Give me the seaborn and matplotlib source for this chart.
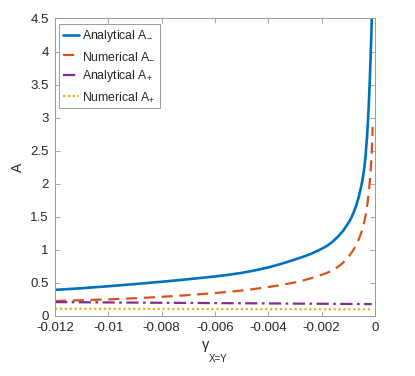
import numpy as np
import pandas as pd
import matplotlib
matplotlib.use("Agg")
import matplotlib.pyplot as plt
import seaborn as sns

# ---- data ----
gamma_am = [-0.012, -0.011, -0.010, -0.009, -0.008, -0.007, -0.006, -0.0055, -0.005,
            -0.0045, -0.004, -0.0035, -0.003, -0.0027, -0.0024, -0.0021, -0.0018,
            -0.0016, -0.0014, -0.0012, -0.0010, -0.0009, -0.0008, -0.0007, -0.0006,
            -0.0005, -0.00045, -0.0004, -0.00035, -0.0003, -0.00026, -0.00022,
            -0.00019, -0.00016, -0.00014, -0.00012, -0.00010]
A_am = [0.395, 0.42, 0.45, 0.483, 0.518, 0.556, 0.598, 0.623, 0.652,
        0.69, 0.735, 0.79, 0.855, 0.895, 0.94, 0.995, 1.06,
        1.12, 1.195, 1.285, 1.405, 1.475, 1.565, 1.675, 1.81,
        1.99, 2.10, 2.24, 2.43, 2.70, 2.96, 3.30,
        3.60, 3.95, 4.20, 4.50, 4.90]

gamma_nm = [-0.012, -0.011, -0.010, -0.009, -0.008, -0.007, -0.006, -0.005, -0.0045,
            -0.004, -0.0035, -0.003, -0.0027, -0.0024, -0.0021, -0.0018, -0.0016,
            -0.0014, -0.0012, -0.0010, -0.0009, -0.0008, -0.0007, -0.0006, -0.0005,
            -0.00045, -0.0004, -0.00035, -0.0003, -0.00026, -0.00022, -0.00019,
            -0.00016, -0.00014, -0.00012, -0.00010, -0.00009]
A_nm = [0.227, 0.238, 0.251, 0.268, 0.29, 0.316, 0.347, 0.385, 0.41,
        0.438, 0.47, 0.508, 0.537, 0.57, 0.608, 0.652, 0.69,
        0.74, 0.805, 0.89, 0.945, 1.005, 1.075, 1.165, 1.275,
        1.345, 1.425, 1.525, 1.645, 1.765, 1.915, 2.055,
        2.20, 2.33, 2.48, 2.66, 2.86]

gamma_ap = [-0.012, -0.010, -0.008, -0.006, -0.004, -0.002, -0.00012]
A_ap = [0.21, 0.205, 0.20, 0.195, 0.19, 0.185, 0.18]

gamma_np = [-0.012, -0.008, -0.004, -0.00012]
A_np = [0.11, 0.107, 0.103, 0.10]

labels = ["Analytical A$_{\\mathsf{-}}$", "Numerical A$_{\\mathsf{-}}$",
          "Analytical A$_{+}$", "Numerical A$_{+}$"]
xticks = [-0.012, -0.01, -0.008, -0.006, -0.004, -0.002, 0]
xtick_labels = ["-0.012", "-0.01", "-0.008", "-0.006", "-0.004", "-0.002", "0"]
yticks = [0, 0.5, 1, 1.5, 2, 2.5, 3, 3.5, 4, 4.5]
ytick_labels = ["0", "0.5", "1", "1.5", "2", "2.5", "3", "3.5", "4", "4.5"]

sns.set_theme(style="white")
plt.rcParams["font.family"] = ["Liberation Sans", "DejaVu Sans"]
plt.rcParams["mathtext.fontset"] = "custom"
plt.rcParams["mathtext.rm"] = "Liberation Sans"
plt.rcParams["mathtext.it"] = "Liberation Sans:italic"
plt.rcParams["mathtext.sf"] = "Liberation Sans"
plt.rcParams["axes.unicode_minus"] = False

fig = plt.figure(figsize=(4.15, 3.76), dpi=100)
ax = fig.add_axes([0.1325, 0.1596, 0.771, 0.7912])

colors = ["#0072BD", "#D95319", "#7E2F8E", "#EDB120"]
styles = ["-", (0, (5, 3)), (0, (5.5, 2, 1.2, 2)), (0, (1, 1.2))]
widths = [1.9, 1.6, 1.6, 1.6]
series = [(gamma_am, A_am), (gamma_nm, A_nm), (gamma_ap, A_ap), (gamma_np, A_np)]

for (gx, ay), c, ls, lw, lab in zip(series, colors, styles, widths, labels):
    df = pd.DataFrame({"gamma": gx, "A": ay})
    sns.lineplot(data=df, x="gamma", y="A", ax=ax, color=c, linestyle=ls,
                 linewidth=lw, label=lab, sort=True, estimator=None)

ax.set_xlim(-0.012, 0)
ax.set_ylim(0, 4.5)
ax.set_xticks(xticks)
ax.set_xticklabels(xtick_labels)
ax.set_yticks(yticks)
ax.set_yticklabels(ytick_labels)
ax.tick_params(axis="both", direction="in", length=3.5, width=0.6, color="#9a9a9a",
               labelsize=9.5, labelcolor="#262626", top=True, right=True,
               bottom=True, left=True, pad=4.5)
for s in ax.spines.values():
    s.set_color("#9a9a9a")
    s.set_linewidth(0.7)

ax.set_xlabel("")
ax.set_ylabel("A", fontsize=10, color="#262626", labelpad=4)
fig.text(206 / 415, 1 - 345 / 376, "γ", fontsize=10.5, color="#262626",
         ha="center", va="center")
fig.text(218 / 415, 1 - 359 / 376, "X=Y", fontsize=7, color="#262626",
         ha="center", va="center")

leg = ax.legend(loc="upper left", bbox_to_anchor=(0.004, 0.99), fontsize=8.8,
                frameon=True, fancybox=False, framealpha=1, edgecolor="#9a9a9a",
                handlelength=1.35, handletextpad=0.2, labelspacing=0.5,
                borderpad=0.35, borderaxespad=0.2)
leg.get_frame().set_linewidth(0.7)
for t in leg.get_texts():
    t.set_color("#262626")

fig.savefig("out.png", dpi=100)
